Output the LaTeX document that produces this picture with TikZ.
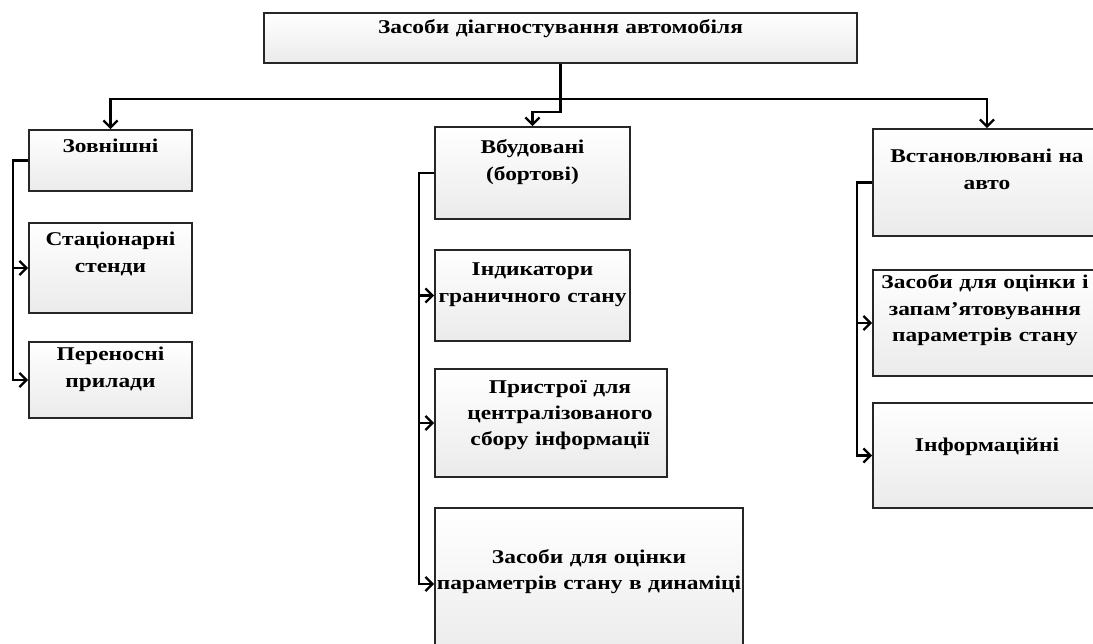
\documentclass[tikz,border=0pt]{standalone}
\usepackage{fontspec}
\setmainfont{Liberation Serif}[FakeStretch=1.2]
\usetikzlibrary{arrows.meta}
\begin{document}
\begin{tikzpicture}[x=1pt,y=-1pt,
  box/.style={draw=black!85, line width=1.8pt, top color=white, bottom color=black!8, inner sep=0pt},
  lbl/.style={inner sep=0pt, align=center, anchor=base, font=\bfseries\fontsize{19.5}{26.5}\selectfont},
  conn/.style={line width=2.3pt, black},
  arr/.style={conn, -{Straight Barb[length=7pt,width=14pt]}}]
\useasboundingbox (0,0) rectangle (1093,644);
\clip (0,0) rectangle (1093,644);
% boxes
\node[box, minimum width=593, minimum height=50] (top) at (560.5,38) {};
\node[box, minimum width=163, minimum height=61] (zov) at (110.5,160.5) {};
\node[box, minimum width=163, minimum height=90] (stac) at (110.5,268) {};
\node[box, minimum width=163, minimum height=76] (pere) at (110.5,380) {};
\node[box, minimum width=195, minimum height=92] (vbud) at (532.5,173) {};
\node[box, minimum width=195, minimum height=91] (ind) at (532.5,295.5) {};
\node[box, minimum width=232, minimum height=108] (pris) at (551,423) {};
\node[box, minimum width=308, minimum height=152] (dyn) at (589,584) {};
\node[box, minimum width=228, minimum height=107] (vst) at (987,182.5) {};
\node[box, minimum width=228, minimum height=106] (zap) at (987,323) {};
\node[box, minimum width=228, minimum height=105] (inf) at (987,455.5) {};
% labels
\node[lbl, text width=560pt] (topT) at (560.5,34) {Засоби діагностування автомобіля};
\node[lbl, text width=160pt] (zovT) at (110.5,153) {Зовнішні};
\node[lbl, text width=160pt] (stacT) at (110.5,246) {Стаціонарні\\стенди};
\node[lbl, text width=160pt] (pereT) at (110.5,361) {Переносні\\прилади};
\node[lbl, text width=195pt] (vbudT) at (532.5,154) {Вбудовані\\(бортові)};
\node[lbl, text width=195pt] (indT) at (532.5,276) {Індикатори\\граничного стану};
\node[lbl, text width=232pt] (prisT) at (560,393) {Пристрої для\\централізованого\\сбору інформації};
\node[lbl, text width=308pt] (dynT) at (589,563) {Засоби для оцінки\\параметрів стану в динаміці};
\node[lbl, text width=228pt] (vstT) at (987,163) {Встановлювані на\\авто};
\node[lbl, text width=228pt] (zapT) at (985,289) {Засоби для оцінки і\\запам’ятовування\\параметрів стану};
\node[lbl, text width=228pt] (infT) at (987,451) {Інформаційні};
% connectors from the top box
\coordinate (bus) at (560.5,99);
\coordinate (jog) at (560.5,112);
\draw[arr] (top.south) -- (jog) -| (vbud.north);
\draw[arr] (bus) -| (zov.north);
\draw[arr] (bus) -| (vst.north);
% brackets
\coordinate (lb) at (13,0);
\coordinate (mb) at (419,0);
\coordinate (rb) at (857,0);
\draw[arr] (zov.west) -- (zov.west -| lb) |- (stac.west);
\draw[arr] (zov.west -| lb) |- (pere.west);
\draw[arr] (vbud.west) -- (vbud.west -| mb) |- (ind.west);
\draw[arr] (vbud.west -| mb) |- (pris.west);
\draw[arr] (vbud.west -| mb) |- (dyn.west);
\draw[arr] (vst.west) -- (vst.west -| rb) |- (zap.west);
\draw[arr] (vst.west -| rb) |- (inf.west);
\end{tikzpicture}
\end{document}
